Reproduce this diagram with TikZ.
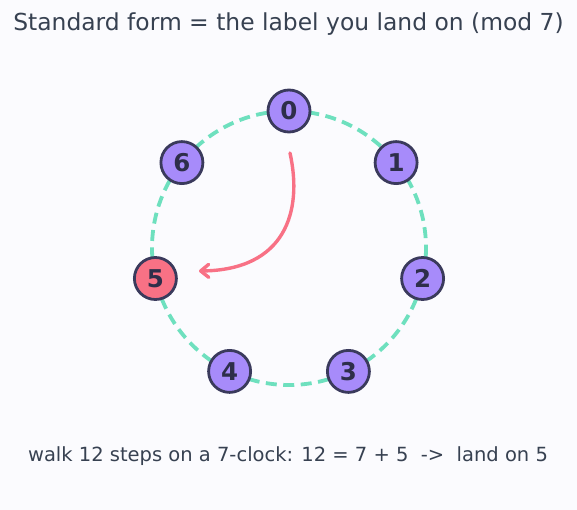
\documentclass[tikz,border=0pt]{standalone}
\usepackage{fontspec}
\setmainfont{DejaVu Sans}
\usetikzlibrary{arrows.meta,positioning}
\definecolor{bgcol}{HTML}{FBFBFE}
\definecolor{txtcol}{HTML}{374151}
\definecolor{numcol}{HTML}{2E2E4A}
\definecolor{ringcol}{HTML}{6EE0BE}
\definecolor{lblfill}{HTML}{A78BFA}
\definecolor{lbledge}{HTML}{3A3A5C}
\definecolor{hitcol}{HTML}{F87185}
\tikzset{
  lbl/.style={circle,draw=lbledge,line width=2.8pt,fill=lblfill,minimum size=42pt,inner sep=0pt,
    text=numcol,font=\fontsize{24.5}{27}\selectfont\bfseries},
  hit/.style={lbl,fill=hitcol},
  walk/.style={draw=hitcol,line width=3.4pt,-{Straight Barb[length=8pt,width=13pt,line width=3.4pt,round]}}
}
\begin{document}
\begin{tikzpicture}[x=1pt,y=-1pt,every node/.style={text=txtcol}]
\fill[bgcol] (0,0) rectangle (577,510);
\useasboundingbox (0,0) rectangle (577,510);
\coordinate (c) at (289,248);
\draw[ringcol,line width=3.8pt,dash pattern=on 11pt off 6.5pt] (c) circle (137);
\node[lbl] (n0) at (289.0,111.0) {0};
\node[lbl] (n1) at (396.1,162.6) {1};
\node[lbl] (n2) at (422.6,278.5) {2};
\node[lbl] (n3) at (348.4,371.4) {3};
\node[lbl] (n4) at (229.6,371.4) {4};
\node[hit] (n5) at (155.4,278.5) {5};
\node[lbl] (n6) at (181.9,162.6) {6};
\coordinate (w0) at (290,153);
\coordinate (w1) at (199,271);
\draw[walk,line cap=round] (w0) .. controls (303,212) and (285,270) .. (w1);
\node[font=\fontsize{23.4}{27}\selectfont] (title) at (288.5,24) {Standard form = the label you land on (mod 7)};
\node[font=\fontsize{19.5}{23}\selectfont] (note) at (288,456) {walk 12 steps on a 7-clock: 12 = 7 + 5\ \ ->\ \ land on 5};
\end{tikzpicture}
\end{document}
